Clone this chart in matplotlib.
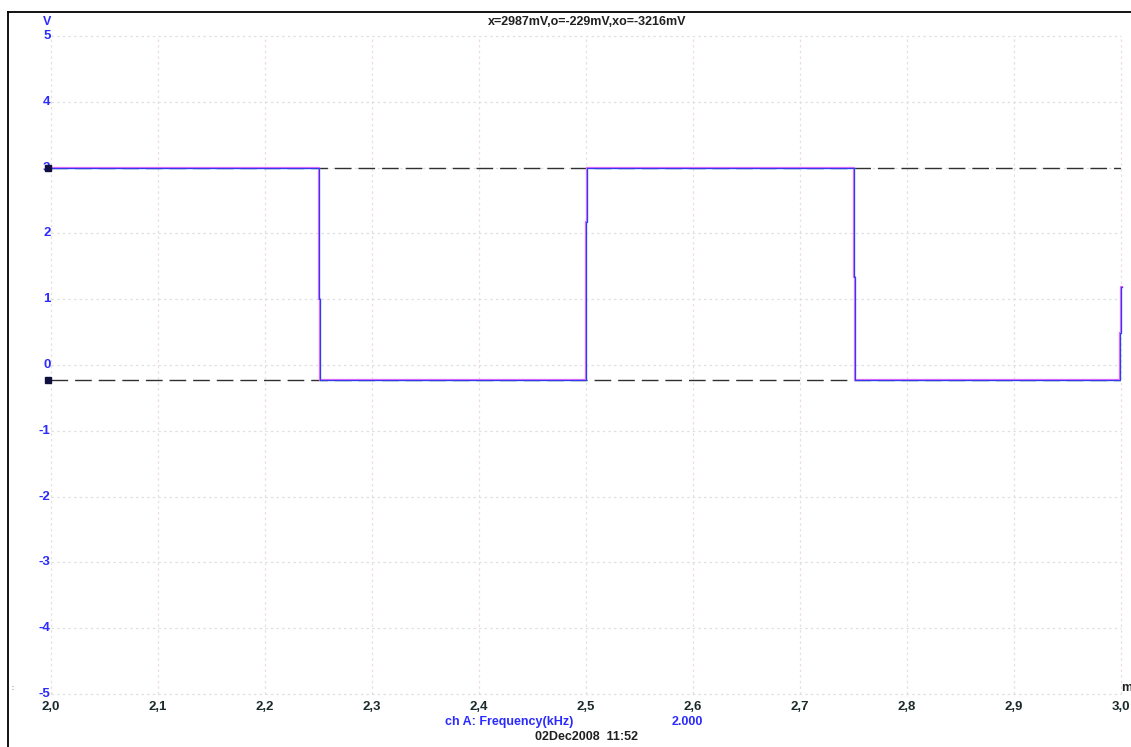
import matplotlib
matplotlib.use("Agg")
import matplotlib.pyplot as plt
from matplotlib.lines import Line2D

# scope trace: sample times (ms) and voltages (V), steps between samples
trace_t = [2.000, 2.250, 2.251, 2.500, 2.501, 2.750, 2.751, 2.999, 3.000, 3.001]
trace_v = [2.987, 1.00, -0.229, 2.17, 2.987, 1.34, -0.229, 0.49, 1.19, 1.19]

# cursor levels (V)
cursor_x = 2.987
cursor_o = -0.229

x_ticks = [2.0, 2.1, 2.2, 2.3, 2.4, 2.5, 2.6, 2.7, 2.8, 2.9, 3.0]
x_labels = ["2,0", "2,1", "2,2", "2,3", "2,4", "2,5", "2,6", "2,7", "2,8", "2,9", "3,0"]
y_ticks = [5, 4, 3, 2, 1, 0, -1, -2, -3, -4, -5]

header = "x=2987mV,o=-229mV,xo=-3216mV"
channel = "ch A: Frequency(kHz)"
channel_val = "2.000"
stamp = "02Dec2008  11:52"

W, H = 1131, 747
fig = plt.figure(figsize=(W / 100, H / 100), dpi=100)
fig.patch.set_facecolor("white")

ax = fig.add_axes([51 / W, 1 - 694 / H, (1121 - 51) / W, (694 - 36) / H])
ax.set_xlim(2.0, 3.0)
ax.set_ylim(-5, 5)
for s in ax.spines.values():
    s.set_visible(False)
ax.tick_params(length=0)
ax.set_xticks(x_ticks)
ax.set_yticks(y_ticks)
ax.set_xticklabels([])
ax.set_yticklabels([])

font = "Liberation Sans"
blue = "#2b2bff"

# dotted grid
for xt in x_ticks:
    ax.axvline(xt, color="#ecdde2", lw=0.9, ls=(0, (2, 2.5)), zorder=0, clip_on=False)
for yt in y_ticks:
    ax.axhline(yt, color="#dfe0e5", lw=0.9, ls=(0, (2, 2.5)), zorder=0, clip_on=False)

# tick labels
for xt, lab in zip(x_ticks, x_labels):
    ax.text(xt, -5.1, lab, ha="center", va="top", fontsize=9.5,
            fontweight="bold", color="#1a2a2a", family=font, clip_on=False)
for yt in y_ticks:
    ax.text(1.9995, yt, str(yt), ha="right", va="center", fontsize=9.5,
            fontweight="bold", color=blue, family=font, clip_on=False)

# cursor lines
for lvl in (cursor_x, cursor_o):
    ax.axhline(lvl, color="#303030", lw=1.0, dashes=(12, 5), zorder=2)
    ax.plot([1.9975], [lvl], marker="s", ms=4, color="#101040", clip_on=False, zorder=4)

# trace, with coloured fringe underneath
ax.step(trace_t, trace_v, where="post", color="#ff50ff", lw=1.6, zorder=3, clip_on=False)
ax.step(trace_t, trace_v, where="post", color="#25d5e5", lw=1.0, zorder=3, clip_on=False)
ax.step(trace_t, trace_v, where="post", color="#3535f0", lw=0.7, zorder=3, clip_on=False)

# text around the plot
fig.text(587 / W, 1 - 22 / H, header, ha="center", va="center", fontsize=9,
         fontweight="bold", color="#202020", family=font)
fig.text(47 / W, 1 - 22 / H, "V", ha="center", va="center", fontsize=9,
         fontweight="bold", color=blue, family=font)
fig.text(1121 / W, 1 - 688 / H, "m", ha="left", va="center", fontsize=9,
         fontweight="bold", color="#202020", family=font)
fig.text(509 / W, 1 - 722 / H, channel, ha="center", va="center", fontsize=9,
         fontweight="bold", color=blue, family=font)
fig.text(687 / W, 1 - 722 / H, channel_val, ha="center", va="center", fontsize=9,
         fontweight="bold", color=blue, family=font)
fig.text(586 / W, 1 - 737 / H, stamp, ha="center", va="center", fontsize=9,
         fontweight="bold", color="#202020", family=font)
fig.text(12 / W, 1 - 688 / H, ":", ha="center", va="center", fontsize=5,
         color="#a00000", family=font)

# outer frame
fig.add_artist(Line2D([8 / W, 1.0], [1 - 12 / H, 1 - 12 / H], color="black", lw=1.3))
fig.add_artist(Line2D([8 / W, 8 / W], [0.0, 1 - 12 / H], color="black", lw=1.3))

fig.savefig("out.png", dpi=100, facecolor="white")
